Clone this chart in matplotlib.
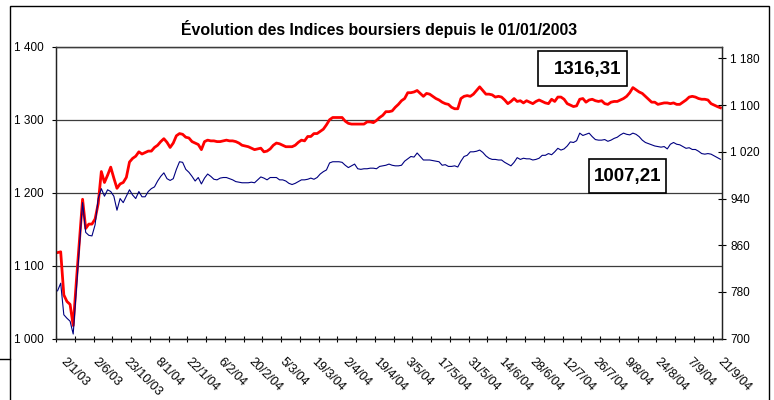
import matplotlib
matplotlib.use('Agg')
import matplotlib.pyplot as plt
import numpy as np
from matplotlib.patches import Rectangle
from matplotlib.lines import Line2D
from matplotlib.transforms import ScaledTranslation

plt.rcParams['font.family'] = ['Liberation Sans', 'DejaVu Sans']

# libellés de l'axe des catégories (un tous les 10 points)
dates = ['2/1/03', '2/6/03', '23/10/03', '8/1/04', '22/1/04', '6/2/04', '20/2/04',
         '5/3/04', '19/3/04', '2/4/04', '19/4/04', '3/5/04', '17/5/04', '31/5/04',
         '14/6/04', '28/6/04', '12/7/04', '26/7/04', '9/8/04', '24/8/04', '7/9/04',
         '21/9/04']

# indice en rouge (axe de gauche)
indice_rouge = [
    1118, 1119, 1060, 1051, 1047, 1018, 1078, 1134, 1191, 1151,
    1157, 1157, 1164, 1185, 1229, 1214, 1224, 1235, 1220, 1206,
    1212, 1214, 1221, 1242, 1247, 1250, 1256, 1253, 1255, 1257,
    1257, 1262, 1265, 1270, 1274, 1269, 1262, 1268, 1278, 1281,
    1280, 1276, 1275, 1270, 1268, 1266, 1259, 1270, 1272, 1271,
    1271, 1270, 1270, 1271, 1272, 1271, 1271, 1270, 1268, 1265,
    1264, 1263, 1261, 1259, 1260, 1261, 1256, 1257, 1260, 1265,
    1268, 1267, 1265, 1263, 1263, 1263, 1265, 1269, 1272, 1271,
    1277, 1277, 1281, 1281, 1284, 1287, 1293, 1300, 1303, 1303,
    1303, 1303, 1298, 1295, 1294, 1294, 1294, 1294, 1294, 1297,
    1297, 1296, 1299, 1303, 1306, 1311, 1311, 1312, 1317, 1321,
    1326, 1329, 1337, 1337, 1338, 1340, 1336, 1332, 1336, 1335,
    1332, 1329, 1327, 1324, 1322, 1321, 1317, 1315, 1315, 1329,
    1332, 1333, 1332, 1335, 1340, 1345, 1340, 1335, 1335, 1334,
    1331, 1332, 1331, 1327, 1322, 1325, 1329, 1325, 1326, 1323,
    1326, 1324, 1322, 1325, 1327, 1325, 1323, 1322, 1328, 1325,
    1331, 1331, 1328, 1322, 1320, 1318, 1319, 1328, 1329, 1324,
    1327, 1328, 1326, 1325, 1326, 1322, 1321, 1324, 1325, 1325,
    1327, 1329, 1332, 1337, 1344, 1341, 1338, 1336, 1332, 1328,
    1324, 1324, 1321, 1322, 1323, 1323, 1322, 1323, 1321, 1321,
    1324, 1327, 1331, 1332, 1331, 1329, 1328, 1328, 1327, 1322,
    1320, 1318, 1316.31]

# indice en bleu (axe de droite)
indice_bleu = [
    782, 795, 741, 735, 730, 708, 783, 857, 933, 882,
    877, 876, 895, 940, 957, 944, 955, 952, 944, 920,
    940, 933, 944, 955, 946, 940, 952, 943, 943, 952,
    957, 960, 970, 978, 984, 974, 971, 974, 990, 1003,
    1002, 990, 985, 978, 970, 976, 965, 975, 982, 978,
    973, 972, 975, 976, 976, 974, 972, 969, 968, 967,
    967, 967, 968, 967, 972, 977, 975, 972, 976, 976,
    976, 972, 972, 970, 966, 964, 966, 969, 972, 972,
    973, 975, 973, 976, 982, 986, 989, 1001, 1003, 1003,
    1003, 1002, 997, 993, 996, 999, 991, 990, 991, 991,
    992, 992, 991, 995, 996, 997, 999, 997, 996, 996,
    997, 1004, 1008, 1012, 1011, 1018, 1012, 1006, 1006, 1006,
    1005, 1004, 1003, 997, 998, 995, 995, 996, 994, 1004,
    1012, 1014, 1020, 1020, 1021, 1023, 1019, 1013, 1009, 1007,
    1007, 1006, 1006, 1002, 999, 996, 1002, 1010, 1007, 1009,
    1008, 1008, 1006, 1007, 1009, 1014, 1014, 1017, 1015, 1020,
    1026, 1023, 1025, 1030, 1037, 1036, 1039, 1052, 1048, 1050,
    1052, 1046, 1041, 1040, 1040, 1041, 1038, 1040, 1043, 1045,
    1049, 1052, 1050, 1049, 1052, 1050, 1046, 1040, 1036, 1034,
    1032, 1030, 1029, 1028, 1029, 1025, 1033, 1036, 1033, 1032,
    1029, 1026, 1027, 1024, 1024, 1021, 1017, 1016, 1017, 1016,
    1013, 1010, 1007.21]

ticks_gauche = [1000, 1100, 1200, 1300, 1400]
ticks_droite = [700, 780, 860, 940, 1020, 1100, 1180]


def milliers(v):
    return f'{v:,}'.replace(',', ' ')


def virgule(v):
    return f'{v:.2f}'.replace('.', ',')


n = len(indice_rouge)
x = np.arange(n)
W, H = 774, 400

fig = plt.figure(figsize=(W / 100, H / 100), dpi=100)
ax1 = fig.add_axes([56 / W, 1 - 338.7 / H, 666 / W, 292 / H])
ax2 = ax1.twinx()

ax1.plot(x, indice_rouge, color='#ff0000', lw=2.0, zorder=3)
ax2.plot(x, indice_bleu, color='#000080', lw=0.8, zorder=3)

ax1.set_xlim(-0.5, n - 0.5)
ax1.set_ylim(1000, 1400)
ax2.set_ylim(700, 1200)

# grille horizontale
ax1.set_yticks(ticks_gauche)
ax1.set_yticklabels([milliers(v) for v in ticks_gauche])
ax1.yaxis.grid(True, color='#3c3c3c', lw=0.9)
ax1.set_axisbelow(True)
ax1.tick_params(axis='y', direction='out', length=3, width=0.8, pad=6,
                labelsize=8.5, colors='black')

ax2.set_yticks(ticks_droite)
ax2.set_yticklabels([milliers(v) for v in ticks_droite])
ax2.tick_params(axis='y', direction='inout', length=6, width=0.8, pad=3,
                labelsize=8.5)

# axe des catégories
ax1.set_xticks(np.arange(0, n, 10))
ax1.set_xticklabels(dates, rotation=-45, ha='left', va='baseline',
                    rotation_mode='anchor')
ax1.set_xticks(np.arange(-0.5, n, 6), minor=True)
ax1.tick_params(axis='x', which='major', length=0, pad=16.5, labelsize=9)
ax1.tick_params(axis='x', which='minor', direction='inout', length=5, width=0.8)
decal = ScaledTranslation(3 / 100, 0, fig.dpi_scale_trans)
for lbl in ax1.get_xticklabels():
    lbl.set_transform(lbl.get_transform() + decal)

for ax in (ax1, ax2):
    for s in ax.spines.values():
        s.set_linewidth(0.9)
        s.set_color('#222222')
ax2.spines['top'].set_color('#3c3c3c')

fig.text(379 / W, 1 - 29 / H, 'Évolution des Indices boursiers depuis le 01/01/2003',
         ha='center', va='center', fontsize=11.4, fontweight='bold')

# cadres des dernières valeurs
fig.add_artist(Rectangle((537.7 / W, 1 - 86 / H), 89.6 / W, 35.3 / H,
                         transform=fig.transFigure, fill=True, fc='white',
                         ec='black', lw=1.2, zorder=5))
fig.text(621 / W, 1 - 69.5 / H, virgule(indice_rouge[-1]), ha='right', va='center',
         fontsize=13.5, fontweight='bold', zorder=6)
fig.add_artist(Rectangle((589.3 / W, 1 - 193.3 / H), 76.7 / W, 34 / H,
                         transform=fig.transFigure, fill=True, fc='white',
                         ec='black', lw=1.2, zorder=5))
fig.text(627.6 / W, 1 - 176.3 / H, virgule(indice_bleu[-1]), ha='center', va='center',
         fontsize=13.5, fontweight='bold', zorder=6)

# bordure du graphique
fig.add_artist(Rectangle((9.5 / W, -0.1), 759 / W, 1.1 - 6 / H,
                         transform=fig.transFigure, fill=False, ec='black', lw=1))
fig.add_artist(Line2D([0, 9.5 / W], [1 - 359 / H, 1 - 359 / H],
                      transform=fig.transFigure, color='black', lw=1))

fig.savefig('out.png', dpi=100)
